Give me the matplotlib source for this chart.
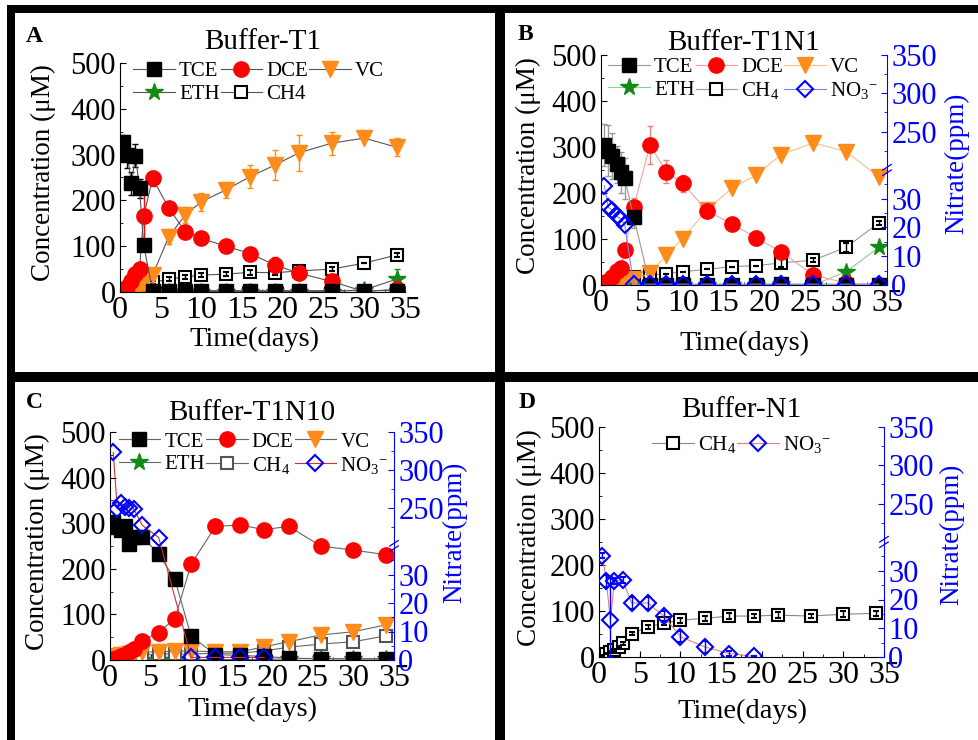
import numpy as np
import matplotlib
matplotlib.use('Agg')
import matplotlib.pyplot as plt
from matplotlib.patches import Rectangle
from matplotlib.lines import Line2D
from matplotlib.ticker import FixedLocator, MultipleLocator

plt.rcParams['font.family'] = ['Liberation Serif', 'DejaVu Serif']
plt.rcParams['mathtext.fontset'] = 'custom'
plt.rcParams['mathtext.rm'] = 'Liberation Serif'
plt.rcParams['mathtext.it'] = 'Liberation Serif:italic'
plt.rcParams['mathtext.bf'] = 'Liberation Serif:bold'

nan = np.nan
days = [0.4, 0.9, 1.4, 1.9, 2.4, 2.9, 4, 6, 8, 10, 13, 16, 19, 22, 26, 30, 34]

# ---- Panel A: Buffer-T1 ----
a_tce = [328, 300, 237, 298, 226, 103, 3, 3, 3, 3, 3, 3, 3, 3, 3, 3, 3]
a_tce_err = [15, 30, 25, 25, 20, 10, 0, 0, 0, 0, 0, 0, 0, 0, 0, 0, 0]
a_dce = [3, 10, 25, 40, 50, 165, 248, 183, 132, 117, 100, 84, 59, 41, 23, 1, 6]
a_dce_err = [0, 0, 5, 8, 8, 70, 17, 5, 5, 5, 5, 5, 18, 10, 8, 0, 5]
a_vc = [0, 2, 4, 6, 10, 20, 37, 121, 168, 197, 223, 252, 277, 304, 325, 336, 316]
a_vc_err = [0, 0, 0, 0, 0, 0, 5, 16, 17, 20, 18, 25, 33, 39, 25, 5, 20]
a_eth = [0, 0, 0, 0, 0, 0, 1, 1, 1, 1, 1, 1, 1, 1, 1, 5, 28]
a_eth_err = [0, 0, 0, 0, 0, 0, 0, 0, 0, 0, 0, 0, 0, 0, 0, 3, 22]
a_ch4 = [5, 7, 9, 11, 13, 16, 21, 28, 33, 37, 39, 43, 42, 46, 50, 63, 81]
a_ch4_err = [2, 2, 2, 3, 3, 3, 4, 5, 5, 5, 5, 5, 5, 5, 5, 0, 5]

# ---- Panel B: Buffer-T1N1 ----
b_tce = [304, 292, 280, 262, 245, 232, 148, 0, 0, 0, 0, 0, 0, 2, 0, 0, 0]
b_tce_err = [45, 55, 50, 40, 45, 45, 25, 0, 0, 0, 0, 0, 0, 0, 0, 0, 0]
b_dce = [3, 8, 18, 30, 36, 76, 170, 304, 246, 221, 161, 133, 103, 72, 22, 4, 0]
b_dce_err = [0, 0, 0, 0, 0, 5, 20, 41, 25, 18, 12, 12, 15, 8, 5, 0, 0]
b_vc = [2, 3, 4, 5, 6, 8, 12, 25, 65, 101, 164, 210, 239, 283, 309, 290, 235]
b_eth = [0, 0, 0, 0, 0, 0, 0, 0, 0, 0, 0, 0, 0, 2, 0, 29, 82]
b_ch4 = [5, 6, 8, 9, 10, 12, 18, 22, 24, 29, 34, 40, 42, 48, 54, 82, 135]
b_ch4_err = [0, 0, 0, 0, 0, 0, 0, 0, 0, 0, 0, 0, 0, 8, 5, 10, 5]
b_no3 = [34.5, 27, 26, 24, 23, 21, 0.3, 0.3, 0.3, 0.3, 0.3, 0.3, 0.3, 0.3, 0.3, 0.3, 0.3]

# ---- Panel C: Buffer-T1N10 ----
c_tce = [303, 292, 285, 293, 255, 270, 270, 232, 177, 52, 12, 10, 8, 4, 3, 2, 2]
c_dce = [2, 4, 8, 12, 18, 25, 42, 60, 91, 210, 293, 296, 286, 293, 250, 241, 231]
c_vc = [5, 8, 10, 12, 14, 15, 17, 18, 19, 20, 18, 18, 29, 40, 55, 62, 77]
c_eth = [1, 1, 1, 1, 1, 1, 1, 1, 1, 1, 1, 1, 1, 3, 3, 3, 3]
c_ch4 = [8, 9, 10, 10, 10, 11, 11, 13, 13, 13, 15, 15, 20, 28, 35, 40, 53]
c_no3 = [323, 249, 256, 251, 250, 249, 227, 211, nan, 0.9, 0.9, 0.9, 0.9, nan, nan, nan, nan]

# ---- Panel D: Buffer-N1 ----
d_ch4 = [4, 7, 11, 16, 22, 30, 51, 65, 74, 80, 84, 89, 89, 91, 89, 93, 95]
d_ch4_err = [1, 1, 2, 2, 3, 3, 3, 5, 5, 5, 5, 6, 5, 6, 5, 6, 6]
d_no3 = [35.3, 26.5, 12.7, 26.5, nan, 26.8, 18.8, 18.8, 14.1, 7.1, 3.5, 1.2, 0.2, nan, nan, nan, nan]
d_no3_err = [1, 2, 15, 1, 0, 1, 2, 2, 2, 2, 2, 1, 0, 0, 0, 0, 0]

titles = ['Buffer-T1', 'Buffer-T1N1', 'Buffer-T1N10', 'Buffer-N1']
letters = ['A', 'B', 'C', 'D']
yticks_left = [0, 100, 200, 300, 400, 500]
xticks = [0, 5, 10, 15, 20, 25, 30, 35]
nitrate_ticks = [0, 10, 20, 30, 250, 300, 350]
nitrate_minor = [5, 15, 25, 35, 225, 275, 325]
NO3_LABEL = 'NO$_3$$^{-}$'

RED = '#ff0000'
ORANGE = '#ff8c1a'
GREEN = '#138a13'
BLUE = '#0000ff'

W, H = 979, 740
fig = plt.figure(figsize=(W / 100, H / 100), dpi=100)


def px_axes(x0, y0, x1, y1):
    return fig.add_axes([x0 / W, 1 - y1 / H, (x1 - x0) / W, (y1 - y0) / H])


# broken right axis: 0-40 lower half, 200-350 upper half
BRK = [0, 40, 200, 350]
POS = [0, 0.5, 0.5005, 1.0]


def fwd(v):
    return np.interp(v, BRK, POS)


def inv(u):
    return np.interp(u, POS, BRK)


def draw(ax, y, marker, color, ms, lcolor, err=None, face=None, ecolor=None,
         above=False, mew=1.0):
    x = np.asarray(days, float)
    y = np.asarray(y, float)
    m = ~np.isnan(y)
    e = None if err is None else np.asarray(err, float)[m]
    ax.errorbar(x[m], y[m], yerr=e, fmt='-', marker=marker, ms=ms, color=lcolor,
                lw=0.8, mfc=face if face is not None else color, mec=color, mew=mew,
                ecolor=ecolor if ecolor else color, elinewidth=1.0, capsize=2.5,
                capthick=1.0, barsabove=above)


def handle(marker, color, ms, lcolor, face=None, mew=1.0):
    return Line2D([], [], marker=marker, ms=ms, color=lcolor, lw=0.8,
                  mfc=face if face is not None else color, mec=color, mew=mew)


def base_axes(ax, title, title_dy, label_x, xl_y, xl_x):
    ax.set_xlim(0, 35)
    ax.set_ylim(0, 500)
    ax.spines['top'].set_visible(False)
    ax.spines['right'].set_visible(False)
    for s in ['left', 'bottom']:
        ax.spines[s].set_linewidth(0.8)
    ax.set_xticks(xticks)
    ax.set_yticks(yticks_left)
    ax.xaxis.set_minor_locator(MultipleLocator(2.5))
    ax.yaxis.set_minor_locator(MultipleLocator(50))
    ax.tick_params(which='major', direction='in', length=4, width=0.8, pad=3)
    ax.tick_params(axis='y', labelsize=22)
    ax.tick_params(axis='x', labelsize=23)
    ax.tick_params(which='minor', direction='in', length=2, width=0.6)
    ax.set_ylabel('Concentration (μM)', fontsize=19.5)
    ax.yaxis.set_label_coords(label_x, 0.52)
    ax.set_xlabel('Time(days)', fontsize=20.5)
    ax.xaxis.set_label_coords(xl_x, xl_y)
    ax.text(0.5, 1 + title_dy, title, transform=ax.transAxes, ha='center',
            va='center', fontsize=21)


def right_axis(ax, lab_x, lab_y):
    ax2 = ax.twinx()
    ax2.set_yscale('function', functions=(fwd, inv))
    ax2.set_ylim(0, 350)
    ax2.yaxis.set_major_locator(FixedLocator(nitrate_ticks))
    ax2.yaxis.set_minor_locator(FixedLocator(nitrate_minor))
    for s in ['top', 'left', 'bottom']:
        ax2.spines[s].set_visible(False)
    ax2.spines['right'].set_color(BLUE)
    ax2.spines['right'].set_linewidth(0.8)
    ax2.tick_params(which='major', direction='in', length=4, width=0.8,
                    labelsize=22, pad=3, colors=BLUE)
    ax2.tick_params(which='minor', direction='in', length=2, width=0.6,
                    colors=BLUE)
    ax2.set_ylabel('Nitrate(ppm)', fontsize=19.5, color=BLUE)
    ax2.yaxis.set_label_coords(lab_x, lab_y)
    yb = fwd(40)
    for off in (-0.012, 0.012):
        ax2.plot([0.985, 1.015], [yb - 0.012 + off, yb + 0.012 + off],
                 transform=ax2.transAxes, color=BLUE, lw=0.9, clip_on=False)
    return ax2


leg_kw = dict(frameon=False, fontsize=15, handlelength=2.0, handletextpad=0.2,
              columnspacing=0.05, labelspacing=0.15, borderpad=0, borderaxespad=0,
              loc='upper left')

# ================= Panel A =================
axA = px_axes(120, 63, 405, 292)
base_axes(axA, titles[0], 0.092, -0.225, -0.15, 0.47)
gA = '#555555'
draw(axA, a_eth, '*', GREEN, 13, gA, a_eth_err)
draw(axA, a_ch4, 's', 'black', 9, gA, a_ch4_err, face='white', above=True, mew=1.5)
draw(axA, a_vc, 'v', ORANGE, 12, gA, a_vc_err)
draw(axA, a_dce, 'o', RED, 11, gA, a_dce_err)
draw(axA, a_tce, 's', 'black', 9.5, gA, a_tce_err)
hA = [handle('s', 'black', 9.5, gA), handle('*', GREEN, 13, gA),
      handle('o', RED, 11, gA), handle('s', 'black', 9, gA, face='white', mew=1.5),
      handle('v', ORANGE, 12, gA)]
axA.legend(hA, ['TCE', 'ETH', 'DCE', 'CH4', 'VC'], ncol=3,
           bbox_to_anchor=(0.046, 1.005), **leg_kw)

# ================= Panel B =================
axB = px_axes(601, 55, 887, 285)
base_axes(axB, titles[1], 0.052, -0.21, -0.2, 0.5)
axB2 = right_axis(axB, 1.2, 0.53)
draw(axB, b_eth, '*', GREEN, 13, '#8fcf8f')
draw(axB, b_ch4, 's', 'black', 9, '#999999', b_ch4_err, face='white', above=True, mew=1.5)
draw(axB, b_vc, 'v', ORANGE, 12, '#f5c08a')
draw(axB, b_dce, 'o', RED, 11, '#f4a0a0', b_dce_err, ecolor='#f08080')
draw(axB, b_tce, 's', 'black', 9.5, '#999999', b_tce_err, ecolor='#999999')
draw(axB2, b_no3, 'D', BLUE, 8.5, '#8080ff', face='none', mew=1.5)
hB = [handle('s', 'black', 9.5, '#999999'), handle('*', GREEN, 13, '#8fcf8f'),
      handle('o', RED, 11, '#f4a0a0'),
      handle('s', 'black', 9, '#999999', face='white', mew=1.5),
      handle('v', ORANGE, 12, '#f5c08a'),
      handle('D', BLUE, 8.5, '#8080ff', face='none', mew=1.5)]
axB2.legend(hB, ['TCE', 'ETH', 'DCE', 'CH$_4$', 'VC', NO3_LABEL], ncol=3,
            bbox_to_anchor=(0.025, 0.99), **leg_kw)

# ================= Panel C =================
axC = px_axes(110, 432, 394, 660)
base_axes(axC, titles[2], 0.083, -0.21, -0.16, 0.5)
axC2 = right_axis(axC, 1.17, 0.56)
gC = '#666666'
draw(axC, c_eth, '*', GREEN, 13, gC)
draw(axC, c_ch4, 's', '#555555', 9, gC, face='white', mew=1.5)
draw(axC, c_vc, 'v', ORANGE, 12, gC)
draw(axC, c_dce, 'o', RED, 11, gC)
draw(axC, c_tce, 's', 'black', 9.5, gC)
draw(axC2, c_no3, 'D', BLUE, 8.5, '#cc3333', face='none', mew=1.5)
hC = [handle('s', 'black', 9.5, gC), handle('*', GREEN, 13, gC),
      handle('o', RED, 11, gC), handle('s', '#555555', 9, gC, face='white', mew=1.5),
      handle('v', ORANGE, 12, gC),
      handle('D', BLUE, 8.5, '#cc3333', face='none', mew=1.5)]
axC2.legend(hC, ['TCE', 'ETH', 'DCE', 'CH$_4$', 'VC', NO3_LABEL], ncol=3,
            bbox_to_anchor=(0.03, 1.0), **leg_kw)

# ================= Panel D =================
axD = px_axes(599, 427, 884, 657)
base_axes(axD, titles[3], 0.074, -0.2, -0.18, 0.505)
axD2 = right_axis(axD, 1.195, 0.535)
draw(axD, d_ch4, 's', 'black', 9, '#888888', d_ch4_err, face='white', above=True, mew=1.5)
draw(axD2, d_no3, 'D', BLUE, 8.5, '#e08080', d_no3_err, face='none', above=True, mew=1.5)
hD = [handle('s', 'black', 9, '#888888', face='white', mew=1.5),
      handle('D', BLUE, 8.5, '#e08080', face='none', mew=1.5)]
axD2.legend(hD, ['CH$_4$', NO3_LABEL], ncol=2,
            bbox_to_anchor=(0.186, 0.97), **leg_kw)

# panel letters
for (lx, ly), letter in zip([(34, 37), (525, 34), (34, 402), (527, 403)], letters):
    fig.text(lx / W, 1 - ly / H, letter, fontsize=17, fontweight='bold',
             ha='center', va='center')


# thick panel borders
def bar(x0, y0, x1, y1):
    fig.add_artist(Rectangle((x0 / W, 1 - y1 / H), (x1 - x0) / W, (y1 - y0) / H,
                             transform=fig.transFigure, color='black', lw=0,
                             zorder=20))


bar(7, 5, 979, 13)
bar(7, 5, 15, 740)
bar(495, 5, 505, 740)
bar(7, 372, 979, 382)

fig.savefig('out.png', dpi=100)
